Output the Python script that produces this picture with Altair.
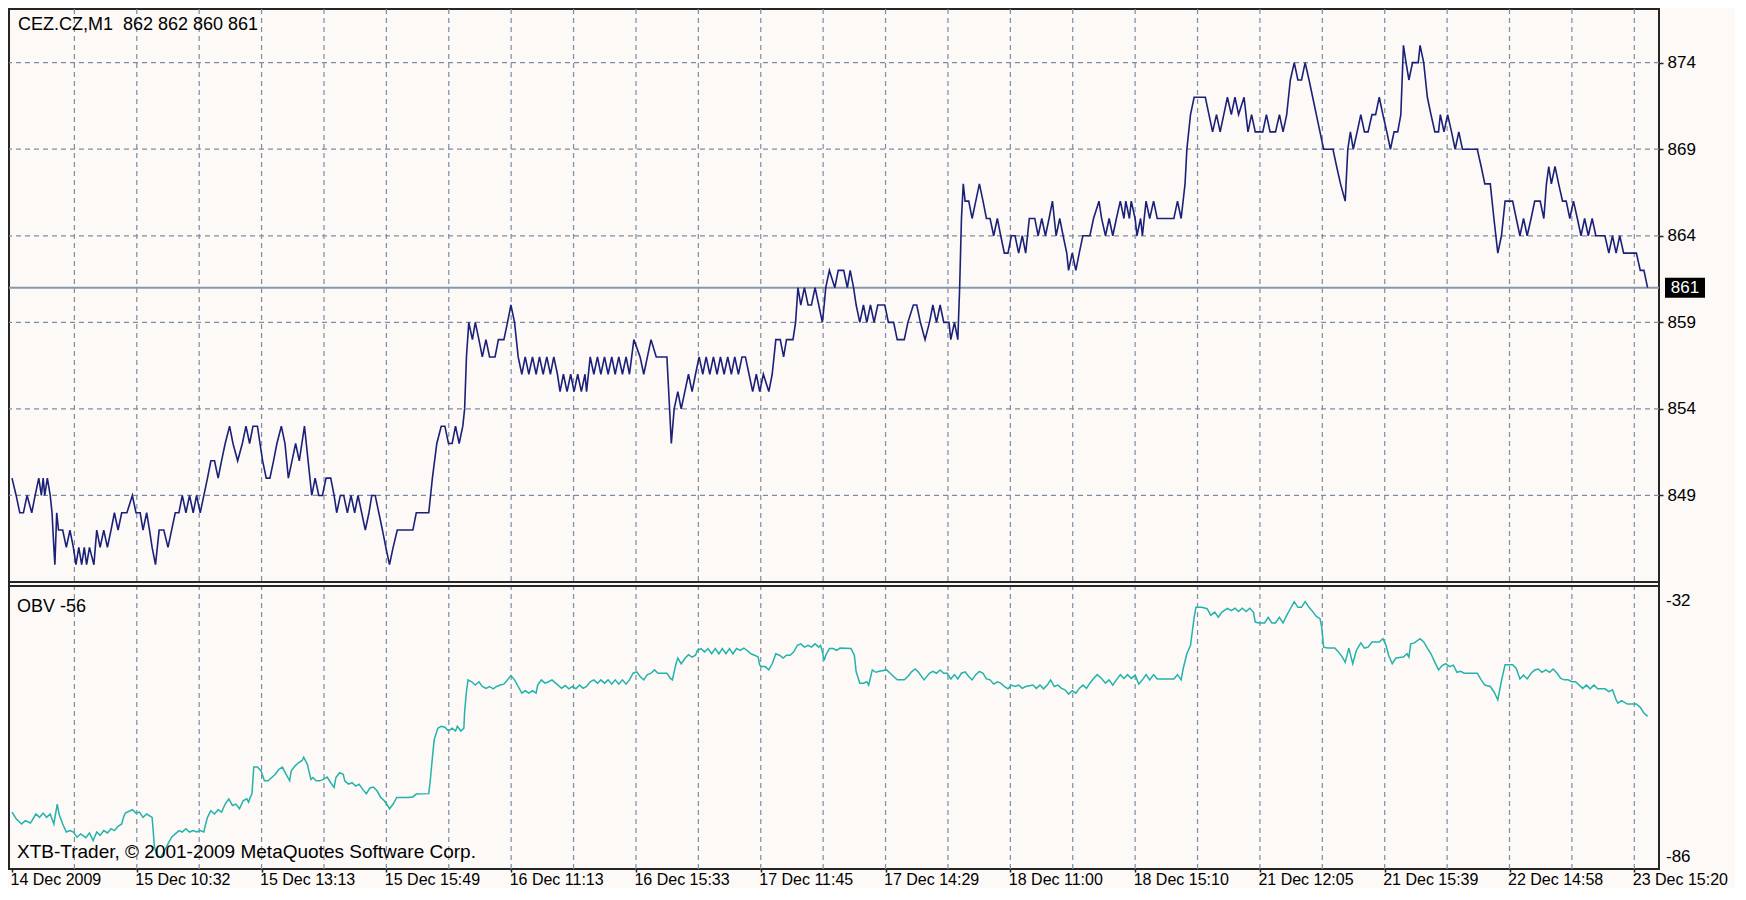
import json
import altair as alt
import pandas as pd

# ---------------- texts ----------------
symbol_title = "CEZ.CZ,M1\u00a0 862 862 860 861"
obv_title = "OBV -56"
footer_text = "XTB-Trader, \u00a9 2001-2009 MetaQuotes Software Corp."

date_labels = ["14 Dec 2009", "15 Dec 10:32", "15 Dec 13:13", "15 Dec 15:49",
               "16 Dec 11:13", "16 Dec 15:33", "17 Dec 11:45", "17 Dec 14:29",
               "18 Dec 11:00", "18 Dec 15:10", "21 Dec 12:05", "21 Dec 15:39",
               "22 Dec 14:58", "23 Dec 15:20"]
label_bars = [0, 48, 96, 144, 192, 240, 288, 336, 384, 432, 480, 528, 576, 624]
grid_bars = [24, 48, 72, 96, 120, 144, 168, 192, 216, 240, 264, 288, 312,
             336, 360, 384, 408, 432, 456, 480, 504, 528, 552, 576, 600, 624]
price_ticks = [849, 854, 859, 864, 869, 874]
obv_ticks = [-32, -86]

# ---------------- price (close) ----------------
price_bar = [
    0, 1.6, 3.0, 4.4, 5.8, 7.6, 8.9, 10.3, 11.3, 12.0,
    12.6, 13.6, 14.7, 15.4, 16.1, 16.5, 17.2, 17.9, 19.5, 20.9,
    22.3, 23.6, 24.6, 25.7, 26.8, 27.8, 28.7, 29.8, 31.5, 32.6,
    33.9, 35.3, 36.7, 38.1, 39.4, 40.8, 42.2, 44.2, 46.3, 47.7,
    49.3, 50.4, 51.8, 52.9, 53.9, 55.2, 56.6, 58.4, 60.0, 61.4,
    62.8, 64.2, 65.5, 66.9, 68.3, 69.7, 71.0, 72.4, 73.8, 75.2,
    76.5, 77.9, 79.3, 80.6, 82.0, 83.7, 85.0, 86.8, 88.6, 90.0,
    91.4, 92.7, 94.4, 96.4, 97.8, 99.2, 100.6, 101.9, 103.6, 105.0,
    106.3, 107.7, 109.1, 110.5, 112.5, 113.9, 115.3, 116.6, 118.0, 119.4,
    120.8, 122.6, 123.9, 124.9, 126.3, 127.6, 129.0, 130.4, 131.8, 133.1,
    134.5, 135.9, 137.3, 138.4, 139.7, 141.1, 142.5, 143.8, 145.2, 146.6,
    148.2, 154.2, 155.5, 160.3, 161.7, 163.4, 165.1, 166.5, 167.9, 169.3,
    170.6, 172.0, 173.4, 174.1, 174.8, 175.7, 177.1, 178.2, 179.6, 180.9,
    182.3, 183.7, 185.8, 187.1, 189.2, 190.6, 191.9, 193.3, 194.7, 196.1,
    197.4, 198.8, 200.2, 201.6, 202.9, 204.3, 205.7, 207.1, 208.4, 209.8,
    210.8, 212.1, 213.5, 214.9, 216.2, 217.6, 219.0, 220.4, 221.0, 222.4,
    223.8, 225.2, 226.5, 227.9, 229.3, 230.7, 232.0, 233.4, 234.8, 236.2,
    237.5, 239.2, 241.6, 243.0, 244.4, 245.8, 247.8, 251.9, 252.6, 253.6,
    254.7, 256.1, 257.4, 258.8, 260.2, 261.6, 262.9, 264.3, 265.7, 267.0,
    268.4, 269.8, 271.2, 272.5, 273.9, 275.3, 276.7, 278.0, 279.4, 280.8,
    282.1, 283.5, 284.9, 286.3, 287.6, 289.0, 291.1, 292.4, 293.8, 295.5,
    296.8, 297.9, 300.4, 301.4, 302.3, 303.4, 304.8, 306.2, 307.5, 308.9,
    310.3, 311.7, 312.4, 313.0, 314.4, 316.5, 317.8, 319.9, 321.3, 322.4,
    323.7, 324.7, 326.1, 327.5, 328.8, 330.2, 331.6, 333.0, 335.7, 337.1,
    339.1, 340.5, 343.2, 344.6, 346.7, 348.0, 349.4, 351.2, 352.9, 354.2,
    355.6, 357.0, 358.4, 360.4, 361.1, 362.5, 363.8, 364.5, 365.2, 365.9,
    366.6, 368.0, 369.3, 370.7, 372.1, 373.5, 374.8, 376.2, 377.6, 379.0,
    380.3, 381.7, 383.1, 384.4, 385.8, 387.2, 388.6, 389.9, 391.3, 393.4,
    394.7, 396.1, 397.5, 398.9, 400.2, 401.6, 403.0, 404.3, 405.7, 406.4,
    407.8, 409.2, 410.5, 411.9, 414.6, 416.0, 418.1,
    419.1, 420.6, 422.0, 423.4, 424.8, 426.3, 427.7, 428.4, 429.8, 430.5,
    432.0, 432.7, 434.1, 434.8, 436.2, 437.6, 439.1, 440.5, 446.9, 448.3,
    449.7, 451.2, 451.9, 453.3, 454.7, 459.0, 460.4, 461.8, 463.3, 464.7,
    466.1, 467.5, 469.0, 470.4, 471.8, 473.9, 475.4, 476.8, 478.2, 481.1,
    482.5, 483.9, 486.0, 487.5, 488.9, 490.3, 491.7, 493.2, 494.6, 496.0,
    497.4, 498.9, 500.3, 501.7, 503.1, 504.5, 508.1, 509.5, 511.0, 512.8,
    513.8, 514.8, 515.9, 517.4, 518.8, 520.2, 521.6, 523.1, 524.5, 525.9,
    527.3, 528.8, 530.2, 531.6, 533.0, 534.2, 535.2, 536.2, 537.3, 538.7,
    540.9, 541.6, 543.0, 544.4, 545.8, 547.3, 548.7, 549.4, 550.8, 552.2,
    553.7, 555.1, 556.5, 557.9, 563.6, 565.1, 566.5, 568.6, 570.0, 571.5,
    572.9, 574.3, 577.2, 578.6, 580.0, 581.4, 582.8, 584.3, 585.7, 587.8,
    589.2, 590.2, 591.1, 592.1, 593.5, 594.9, 596.4, 597.8, 599.2, 600.6,
    602.1, 603.5, 604.9, 606.3, 607.8, 609.2, 612.7, 614.2, 615.6, 617.0,
    618.4, 619.9, 624.8, 626.3, 627.7, 629.1,
]
price_close = [
    850, 849, 848, 848, 849, 848, 849, 850, 849, 850,
    849, 850, 849, 848, 846, 845, 848, 847, 847, 846,
    847, 846, 845, 846, 845, 846, 845, 846, 845, 847,
    846, 847, 846, 847, 848, 847, 848, 848, 849, 848,
    848, 847, 848, 847, 846, 845, 847, 847, 846, 847,
    848, 848, 849, 848, 849, 848, 849, 848, 849, 850,
    851, 851, 850, 851, 852, 853, 852, 851, 852, 853,
    852, 853, 853, 851, 850, 850, 851, 852, 853, 852,
    850, 851, 852, 851, 853, 851, 849, 850, 849, 849,
    850, 850, 849, 848, 849, 849, 848, 849, 848, 849,
    848, 847, 848, 849, 849, 848, 847, 846, 845, 846,
    847, 847, 848, 848, 850, 852, 853, 853, 852, 852,
    853, 852, 853, 854, 857, 859, 858, 859, 858, 857,
    858, 857, 857, 858, 858, 859, 860, 859, 857, 856,
    857, 856, 857, 856, 857, 856, 857, 856, 857, 856,
    855, 856, 855, 856, 855, 856, 855, 856, 855, 857,
    856, 857, 856, 857, 856, 857, 856, 857, 856, 857,
    856, 858, 857, 856, 857, 858, 857, 857, 855, 852,
    854, 855, 854, 855, 856, 855, 856, 857, 856, 857,
    856, 857, 856, 857, 856, 857, 856, 857, 856, 857,
    857, 856, 855, 856, 855, 856, 855, 856, 858, 858,
    857, 858, 858, 859, 861, 860, 861, 860, 860, 861,
    860, 859, 860, 861, 862, 861, 862, 862, 861, 862,
    861, 860, 859, 860, 859, 860, 859, 860, 860, 859,
    859, 858, 858, 859, 860, 860, 859, 858, 859, 860,
    859, 860, 859, 859, 858, 859, 858, 861, 865, 867,
    866, 866, 865, 866, 867, 866, 865, 865, 864, 865,
    864, 863, 863, 864, 864, 863, 864, 863, 865, 865,
    864, 865, 864, 865, 866, 864, 865, 864, 863, 862,
    863, 862, 863, 864, 864, 865, 866,
    865, 864, 865, 864, 865, 866, 865, 866, 865, 866,
    865, 864, 865, 864, 866, 865, 866, 865, 865, 866,
    865, 867, 869, 871, 872, 872, 871, 870, 871, 870,
    871, 872, 871, 872, 871, 872, 870, 871, 870, 870,
    871, 870, 870, 871, 870, 871, 873, 874, 873, 873,
    874, 873, 872, 871, 870, 869, 869, 868, 867, 866,
    869, 870, 869, 870, 871, 870, 870, 871, 871, 872,
    871, 870, 869, 870, 870, 871, 875, 874, 873, 874,
    874, 875, 874, 872, 871, 870, 870, 871, 870, 871,
    870, 869, 870, 869, 869, 868, 867, 867, 865, 863,
    864, 866, 866, 865, 864, 865, 864, 865, 866, 866,
    865, 867, 868, 867, 868, 867, 866, 866, 865, 866,
    865, 864, 865, 864, 865, 864, 864, 863, 864, 863,
    864, 863, 863, 862, 862, 861,
]

# ---------------- OBV ----------------
obv_bar = [
    0, 1.6, 3.7, 5.1, 7.1, 9.2, 10.6, 12.0, 13.3, 14.7,
    16.1, 17.4, 18.1, 19.5, 20.9, 22.3, 23.6, 25.0, 26.4, 28.4,
    29.8, 31.2, 32.6, 33.9, 35.3, 36.7, 38.1, 39.4, 40.8, 42.2,
    42.9, 43.6, 46.3, 47.7, 49.0, 50.4, 51.8, 53.9, 54.5, 54.8,
    55.9, 57.3, 58.7, 60.0, 61.4, 62.8, 64.2, 65.5, 66.9, 68.3,
    69.7, 71.0, 72.4, 73.8, 74.5, 75.2, 76.5, 77.9, 79.3, 80.6,
    82.0, 83.4, 84.8, 86.1, 87.5, 88.9, 90.3, 91.0, 91.6, 92.3,
    93.0, 94.4, 95.8, 97.1, 98.5, 99.9, 101.3, 102.6, 104.0, 105.4,
    106.8, 107.4, 108.8, 110.2, 111.6, 112.2, 113.6, 115.0, 115.7, 117.0,
    118.4, 119.8, 121.2, 122.6, 123.9, 124.6, 126.0, 127.4, 128.0, 129.4,
    130.8, 132.2, 133.5, 134.9, 136.3, 137.7, 139.0, 140.4, 141.8, 143.2,
    144.5, 145.2, 146.6, 148.0, 152.1, 154.2, 155.5, 160.3, 161.0, 161.7,
    162.4, 163.8, 165.1, 166.5, 167.9, 169.3, 170.6, 171.3, 172.7, 173.8,
    174.1, 174.8, 175.4, 176.8, 178.2, 179.6, 180.9, 182.3, 183.7, 185.1,
    186.4, 187.8, 189.2, 190.6, 191.9, 193.3, 194.7, 196.1, 197.4, 198.8,
    200.2, 201.6, 202.2, 203.6, 205.0, 206.4, 207.7, 209.1,
    211.4, 212.8, 214.2, 215.6, 216.9, 218.3, 219.7, 221.0, 222.4, 223.8,
    225.2, 226.5, 227.9, 229.3, 230.7, 232.0, 233.4, 234.8, 236.2, 237.5,
    238.9, 240.3, 241.6, 243.0, 244.4, 245.8, 247.1, 248.5, 251.9, 253.3,
    254.0, 255.4, 256.1, 257.4, 258.8, 260.2, 261.6, 262.9, 263.6, 265.0,
    266.4, 267.7, 269.1, 270.5, 271.9, 273.2, 274.6, 276.0, 277.3, 278.7,
    280.1, 281.5, 282.8, 284.2, 285.6, 287.0, 287.6, 288.3, 289.7, 291.1,
    292.4, 293.8, 295.2, 296.6, 297.9, 299.3, 300.7, 302.1, 303.4, 304.8,
    306.2, 307.5, 308.9, 310.3, 311.0, 311.7, 312.4, 313.0, 314.4, 315.8,
    317.2, 318.5, 322.7, 324.0, 324.7, 326.1, 327.5, 328.8, 329.5, 330.9,
    332.3, 333.6, 336.4, 337.8, 339.1, 340.5, 343.2, 344.6, 346.0, 347.4,
    348.7, 350.8, 352.9, 354.2, 355.6, 357.0, 358.4, 359.7, 361.1, 362.5,
    363.8, 365.2, 366.6, 368.0, 369.3, 370.7, 372.1, 373.5, 374.8, 376.2,
    377.6, 379.0, 380.3, 381.7, 383.1, 384.4, 385.8, 387.2, 388.6, 389.9,
    392.7, 394.0, 395.4, 396.8, 398.2, 399.5, 400.9, 402.3, 403.7, 405.0,
    406.4, 407.8, 409.2, 410.5, 411.9, 413.3, 414.6, 416.0, 417.4,
    419.1, 420.6, 422.0, 423.4, 424.8, 426.3, 427.7, 429.1, 430.5, 432.0,
    433.4, 434.8, 436.2, 437.6, 439.1, 440.5, 446.9, 448.3, 449.7, 450.5,
    451.9, 453.3, 454.7, 455.4, 457.6, 459.7, 461.1, 462.6, 464.0, 465.4,
    467.5, 469.0, 470.4, 471.8, 473.2, 474.7, 476.1, 477.5, 478.2, 479.6,
    481.8, 483.2, 484.6, 486.0, 487.5, 488.9, 490.3, 491.7, 493.2, 494.6,
    496.0, 497.4, 498.9, 500.3, 501.7, 503.1, 503.8, 504.5, 506.0, 508.8,
    510.2, 511.7, 512.8, 514.2, 515.7, 517.1, 518.8, 520.2, 521.6, 523.1,
    525.9, 527.3, 528.5, 529.5, 530.9, 532.3, 535.2, 536.6, 537.3, 538.0,
    539.4, 541.6, 543.0, 544.4, 545.8, 547.3, 548.7, 550.1, 551.5, 553.0,
    554.4, 555.8, 557.2, 558.6, 563.6, 565.1, 566.5, 568.6, 570.0, 571.5,
    572.9, 574.3, 577.2, 578.6, 580.0, 581.4, 582.8, 584.3, 585.7, 587.1,
    588.5, 590.0, 591.4, 592.8, 594.3, 595.7, 597.1, 598.5, 600.0, 601.4,
    602.8, 604.2, 605.6, 607.0, 608.5, 609.9, 612.7, 614.2, 615.6, 617.0,
    617.7, 619.1, 621.3, 624.8, 626.3, 627.7, 629.1,
]
obv_value = [
    -76.6, -78.0, -79.1, -78.4, -78.9, -77.0, -77.7, -76.8, -77.7, -77.0,
    -79.1, -74.9, -77.0, -79.1, -80.8, -80.5, -80.8, -81.9, -81.2, -82.0,
    -81.0, -82.6, -80.8, -81.5, -80.5, -81.0, -80.1, -80.5, -79.6, -79.1,
    -77.7, -76.8, -76.1, -76.8, -76.6, -77.7, -77.0, -77.7, -81.9, -84.0,
    -86.0, -86.0, -84.7, -83.3, -81.9, -81.2, -80.5, -80.8, -80.1, -80.8,
    -80.5, -80.8, -80.5, -80.8, -79.1, -77.7, -76.3, -77.0, -76.1, -76.6,
    -74.9, -73.8, -75.2, -74.9, -75.9, -74.2, -73.8, -74.5, -73.5, -72.8,
    -67.1, -67.1, -67.9, -70.0, -70.0, -69.3, -68.6, -67.6, -67.1, -68.6,
    -70.0, -67.9, -66.9, -66.2, -65.7, -65.0, -66.5, -69.7, -69.3, -70.0,
    -70.0, -69.7, -69.2, -70.4, -71.4, -69.3, -68.3, -68.6, -70.0, -70.7,
    -70.4, -71.1, -70.7, -71.8, -72.7, -71.5, -71.3, -72.1, -73.5, -74.2,
    -75.2, -75.9, -74.9, -73.5, -73.5, -73.4, -72.8, -72.7, -69.3, -65.1,
    -61.3, -58.9, -58.5, -58.7, -59.5, -58.9, -59.5, -58.5, -59.5, -58.9,
    -55.4, -51.2, -48.7, -49.1, -49.8, -49.1, -50.1, -50.5, -50.1, -50.6,
    -50.1, -49.8, -49.6, -48.7, -47.8, -48.7, -50.1, -51.5, -51.0, -51.5,
    -51.0, -51.5, -49.8, -48.7, -49.4, -49.1, -48.7, -49.4,
    -50.5, -49.9, -50.6, -50.1, -50.6, -49.8, -50.5, -50.1, -49.1, -48.7,
    -49.4, -48.7, -49.4, -48.7, -49.6, -48.7, -49.6, -48.7, -49.6, -48.7,
    -47.3, -47.0, -48.0, -48.7, -47.6, -47.3, -46.6, -47.3, -47.3, -48.4,
    -48.7, -45.3, -44.1, -45.3, -44.2, -43.4, -43.9, -43.5, -42.5, -42.1,
    -42.8, -42.1, -43.2, -42.1, -43.2, -42.1, -43.2, -42.1, -43.2, -42.1,
    -42.5, -42.0, -42.5, -43.2, -43.5, -43.9, -45.6, -45.9, -45.9, -46.6,
    -45.3, -43.2, -43.5, -44.1, -43.5, -43.5, -42.8, -41.4, -41.1, -41.8,
    -41.4, -41.8, -41.1, -41.8, -41.4, -42.8, -44.6, -43.5, -42.1, -42.1,
    -42.5, -42.0, -42.1, -43.5, -47.0, -49.4, -49.4, -49.1, -49.8, -46.6,
    -47.1, -46.9, -46.6, -47.3, -48.0, -48.7, -48.7, -48.0, -47.0, -46.4,
    -47.1, -48.7, -47.3, -46.9, -47.3, -46.6, -47.3, -47.3, -48.5, -47.6,
    -48.5, -47.3, -47.0, -48.0, -48.7, -47.6, -46.9, -47.3, -48.5, -48.7,
    -49.6, -49.1, -49.4, -50.1, -50.6, -49.8, -50.1, -49.8, -50.5, -50.1,
    -49.8, -50.5, -49.8, -50.6, -49.8, -48.7, -50.1, -49.8, -50.5, -50.8,
    -51.7, -51.0, -51.5, -50.5, -49.8, -50.5, -49.4, -48.4, -47.6,
    -48.4, -49.4, -48.7, -49.8, -48.7, -47.6, -48.4, -47.6, -48.4, -47.7,
    -49.6, -48.7, -47.6, -48.7, -47.6, -48.5, -48.5, -47.6, -48.7, -46.3,
    -43.2, -41.4, -35.5, -33.4, -33.4, -33.7, -35.1, -34.4, -35.5, -34.4,
    -33.6, -34.1, -33.6, -34.3, -33.6, -34.3, -33.6, -34.4, -36.5, -36.7,
    -36.7, -35.5, -36.7, -36.7, -35.5, -36.7, -35.1, -33.7, -32.2, -33.4,
    -33.4, -32.2, -33.4, -34.3, -35.3, -35.8, -37.6, -41.8, -42.0, -42.0,
    -42.8, -43.9, -45.0, -42.0, -45.3, -42.5, -40.9, -42.0, -41.8, -40.7,
    -40.7, -40.0, -41.4, -43.5, -45.3, -44.1, -43.9, -43.2, -43.9, -41.1,
    -40.9, -40.0, -40.7, -42.0, -43.2, -45.0, -46.6, -45.7, -45.3, -45.9,
    -45.6, -47.1, -46.9, -47.3, -47.3, -48.7, -49.8, -50.1, -51.2, -52.9,
    -48.9, -45.5, -45.5, -46.3, -48.5, -47.7, -48.5, -47.3, -46.6, -46.4,
    -47.1, -46.6, -47.1, -46.4, -47.3, -48.4, -48.7, -48.7, -49.1, -49.1,
    -49.8, -50.5, -49.8, -50.6, -49.8, -50.6, -50.6, -51.2, -50.8, -52.9,
    -53.6, -53.1, -53.8, -53.8, -54.5, -55.7, -56.4,
]

# ---------------- styling ----------------
FONT = "Liberation Sans, Arial, sans-serif"
BG = "#fcf9f7"
FRAME = "#262626"
GRID = "#7d8ea2"
LAST_LINE = "#8898ab"
NAVY = "#1b2178"
SEA = "#22b3ab"

W, H = 1650, 860
UPPER_H = 573
LOWER_TOP = 577
TICK = 3

price_df = pd.DataFrame({"bar": price_bar, "close": price_close})
obv_df = pd.DataFrame({"bar": obv_bar, "obv": obv_value})
last_df = pd.DataFrame({"close": [price_close[-1]], "t": [str(price_close[-1])]})
grid_df = pd.DataFrame({"bar": grid_bars})
level_df = pd.DataFrame({"level": price_ticks})
obv_tick_df = pd.DataFrame({"v": obv_ticks, "t": [str(v) for v in obv_ticks]})

x_scale = alt.Scale(domain=[-1.15, 633.5], nice=False, zero=False)
price_scale = alt.Scale(domain=[844.0, 877.1], range=[UPPER_H, 0], nice=False, zero=False)
obv_scale = alt.Scale(domain=[-88.6, -28.9], range=[H, LOWER_TOP], nice=False, zero=False)

label_expr = "%s[round(datum.value / 48)]" % json.dumps(date_labels)
x_axis = alt.Axis(values=label_bars, labelExpr=label_expr, title=None, grid=False,
                  domain=False, ticks=True, tickSize=TICK, tickColor=FRAME, tickWidth=1.5,
                  labelAlign="left", labelBaseline="alphabetic", labelPadding=12,
                  labelOffset=-2, labelFont=FONT, labelFontSize=16, labelColor="#000000",
                  labelFlush=False, labelOverlap=False)
x_enc = alt.X("bar:Q", scale=x_scale, axis=x_axis)

price_axis = alt.Axis(orient="right", values=price_ticks, title=None, grid=False,
                      domain=False, tickSize=4, tickColor=FRAME, tickWidth=1.5,
                      labelPadding=4, labelFont=FONT, labelFontSize=17,
                      labelColor="#000000", labelAlign="left", labelBaseline="middle")

vgrid = alt.Chart(grid_df).mark_rule(color=GRID, strokeDash=[5, 4], strokeWidth=1.2).encode(x=x_enc)
hgrid = alt.Chart(level_df).mark_rule(color=GRID, strokeDash=[5, 4], strokeWidth=1.2).encode(
    y=alt.Y("level:Q", scale=price_scale, axis=None))
last_rule = alt.Chart(last_df).mark_rule(color=LAST_LINE, strokeWidth=2).encode(
    y=alt.Y("close:Q", scale=price_scale, axis=None))
price_line = alt.Chart(price_df).mark_line(color=NAVY, strokeWidth=1.6).encode(
    x=x_enc, y=alt.Y("close:Q", scale=price_scale, axis=price_axis))
obv_line = alt.Chart(obv_df).mark_line(color=SEA, strokeWidth=1.5).encode(
    x=x_enc, y=alt.Y("obv:Q", scale=obv_scale, axis=None))

gap = alt.Chart(pd.DataFrame({"a": [0]})).mark_rect(fill=BG, stroke=FRAME, strokeWidth=2).encode(
    x=alt.value(0), x2=alt.value(W), y=alt.value(UPPER_H), y2=alt.value(LOWER_TOP))

def label(text, x, y, size):
    return alt.Chart(pd.DataFrame({"t": [text]})).mark_text(
        align="left", baseline="middle", font=FONT, fontSize=size, color="#000000").encode(
        text="t:N", x=alt.value(x), y=alt.value(y))

title_txt = label(symbol_title, 9, 16, 18)
obv_txt = label(obv_title, 8, 598, 18)
footer_txt = label(footer_text, 8, 843, 19)

obv_labels = alt.Chart(obv_tick_df).mark_text(
    align="left", baseline="middle", font=FONT, fontSize=17, color="#000000").encode(
    text="t:N", x=alt.value(W + 7), y=alt.Y("v:Q", scale=obv_scale, axis=None))

box = alt.Chart(last_df).mark_point(shape="M-2,-1L2,-1L2,1L-2,1Z", size=400, filled=True,
                                     color="#000000", opacity=1).encode(
    x=alt.value(W + 26), y=alt.Y("close:Q", scale=price_scale, axis=None))
box_txt = alt.Chart(last_df).mark_text(align="center", baseline="middle", font=FONT,
                                       fontSize=17, color="#ffffff").encode(
    text="t:N", x=alt.value(W + 26), y=alt.Y("close:Q", scale=price_scale, axis=None))

chart = alt.layer(
    vgrid, hgrid, last_rule, price_line, obv_line, gap,
    title_txt, obv_txt, footer_txt, obv_labels, box, box_txt
).resolve_scale(y="independent").properties(
    width=W, height=H, background=BG,
    padding={"left": 1, "top": 1, "right": 76, "bottom": 19},
    autosize=alt.AutoSizeParams(type="none"),
).configure_view(stroke=FRAME, strokeWidth=2, fill=BG)

chart.save("out.html", embed_options={"renderer": "svg", "actions": False})
